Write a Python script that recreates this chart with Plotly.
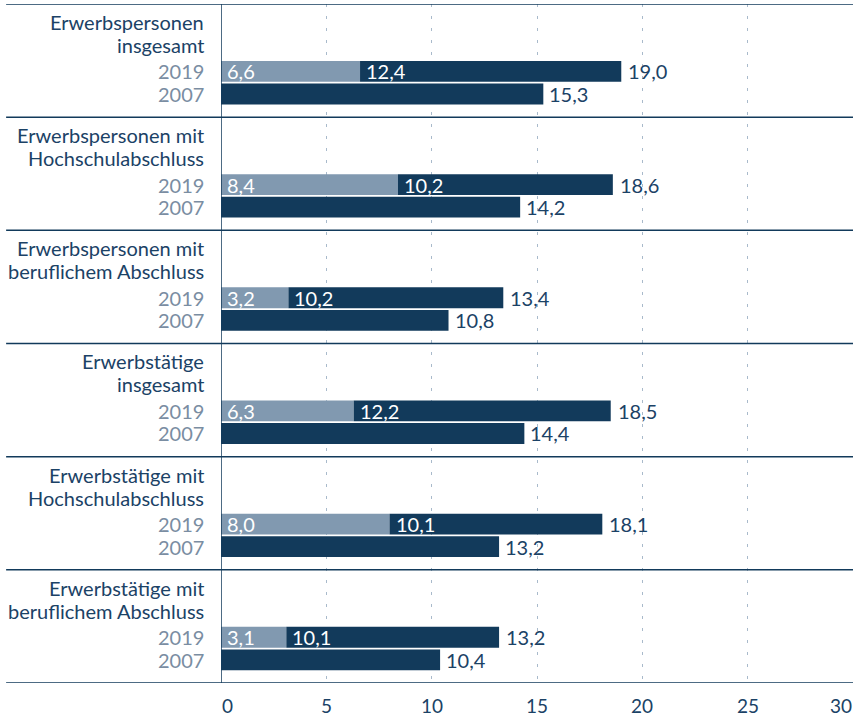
import plotly.graph_objects as go

# ---- data ----
group_line1 = ["Erwerbspersonen", "Erwerbspersonen mit", "Erwerbspersonen mit",
               "Erwerbstätige", "Erwerbstätige mit", "Erwerbstätige mit"]
group_line2 = ["insgesamt", "Hochschulabschluss", "beruflichem Abschluss",
               "insgesamt", "Hochschulabschluss", "beruflichem Abschluss"]
years = ["2019", "2007"]
part_light_2019 = [6.6, 8.4, 3.2, 6.3, 8.0, 3.1]
part_dark_2019 = [12.4, 10.2, 10.2, 12.2, 10.1, 10.1]
total_2019 = [19.0, 18.6, 13.4, 18.5, 18.1, 13.2]
value_2007 = [15.3, 14.2, 10.8, 14.4, 13.2, 10.4]
x_ticks = [0, 5, 10, 15, 20, 25, 30]

# ---- style ----
DARK = "#123a5b"
LIGHT = "#8199b0"
TEXT = "#1b4266"
GREY = "#7a8da2"
GRID = "#a9bacb"
FONT = "Lato"
FS = 20

n = len(group_line1)
off_l1, off_l2, off_19, off_07 = 0.159, 0.362, 0.596, 0.795
bw = 0.184

def fmt(v):
    return f"{v:.1f}".replace(".", ",")

y19 = [i + off_19 for i in range(n)]
y07 = [i + off_07 for i in range(n)]

fig = go.Figure()
fig.add_trace(go.Bar(y=y19, x=part_light_2019, orientation="h", width=bw,
                     marker=dict(color=LIGHT, line=dict(width=0)), hoverinfo="skip"))
fig.add_trace(go.Bar(y=y19, x=part_dark_2019, base=part_light_2019, orientation="h", width=bw,
                     marker=dict(color=DARK, line=dict(width=0)), hoverinfo="skip"))
fig.add_trace(go.Bar(y=y07, x=value_2007, orientation="h", width=bw,
                     marker=dict(color=DARK, line=dict(width=0)), hoverinfo="skip"))

ann = []
for i in range(n):
    for txt, off, col in [(group_line1[i], off_l1, TEXT), (group_line2[i], off_l2, TEXT),
                          (years[0], off_19, GREY), (years[1], off_07, GREY)]:
        ann.append(dict(x=0, xref="paper", y=i + off, yref="y", text=txt, showarrow=False,
                        xanchor="right", yanchor="middle", xshift=-15,
                        font=dict(family=FONT, size=FS, color=col)))
    ann.append(dict(x=0, y=y19[i], text=fmt(part_light_2019[i]), showarrow=False,
                    xanchor="left", yanchor="middle", xshift=4,
                    font=dict(family=FONT, size=FS, color="white")))
    ann.append(dict(x=part_light_2019[i], y=y19[i], text=fmt(part_dark_2019[i]), showarrow=False,
                    xanchor="left", yanchor="middle", xshift=4,
                    font=dict(family=FONT, size=FS, color="white")))
    ann.append(dict(x=total_2019[i], y=y19[i], text=fmt(total_2019[i]), showarrow=False,
                    xanchor="left", yanchor="middle", xshift=5,
                    font=dict(family=FONT, size=FS, color=TEXT)))
    ann.append(dict(x=value_2007[i], y=y07[i], text=fmt(value_2007[i]), showarrow=False,
                    xanchor="left", yanchor="middle", xshift=4,
                    font=dict(family=FONT, size=FS, color=TEXT)))

for t in x_ticks:
    anchor = "left" if t == x_ticks[0] else ("right" if t == x_ticks[-1] else "center")
    ann.append(dict(x=t, xref="x", y=0, yref="paper", text=str(t), showarrow=False,
                    xanchor=anchor, yanchor="middle", yshift=-22, borderpad=0,
                    font=dict(family=FONT, size=19, color=TEXT)))

shapes = []
for i in range(n + 1):
    shapes.append(dict(type="line", xref="paper", x0=-0.34, x1=1, yref="y", y0=i, y1=i,
                       line=dict(color=DARK, width=1.5)))
shapes.append(dict(type="line", xref="x", x0=0, x1=0, yref="y", y0=0, y1=n,
                   line=dict(color=DARK, width=1.5)))

fig.update_layout(
    width=859, height=717,
    margin=dict(l=221, r=6, t=4, b=34),
    paper_bgcolor="white", plot_bgcolor="white",
    barmode="overlay", showlegend=False,
    xaxis=dict(range=[0, 30], tickvals=x_ticks, showticklabels=False, showgrid=True,
               gridcolor=GRID, griddash="3px,9px", gridwidth=1, zeroline=False, showline=False,
               fixedrange=True),
    yaxis=dict(range=[n, 0], showticklabels=False, showgrid=False, zeroline=False,
               showline=False, fixedrange=True),
    annotations=ann, shapes=shapes,
)
fig.write_html("out.html", config={"displayModeBar": False},
               post_script="document.body.style.margin='0';document.body.style.overflow='hidden';")
